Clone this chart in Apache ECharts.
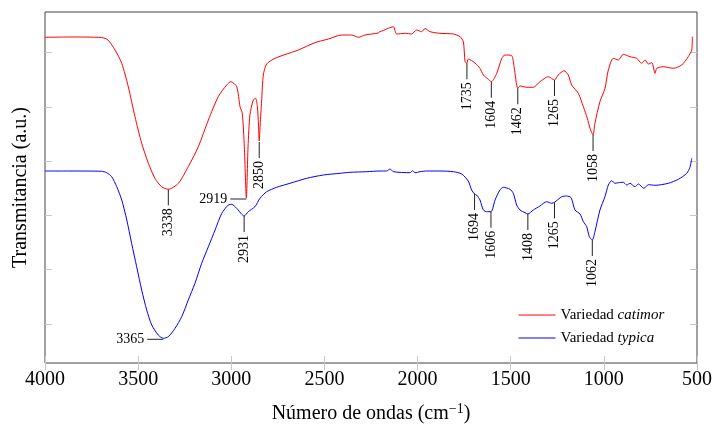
<!DOCTYPE html>
<html>
<head>
<meta charset="utf-8">
<script src="https://cdn.jsdelivr.net/npm/echarts@6/dist/echarts.min.js"></script>
<style>html,body{margin:0;padding:0;background:#fff}#c{width:714px;height:425px}</style>
</head>
<body>
<div id="c"></div>
<script>
// Wavenumber (cm^-1), transmittance (a.u.)
const catimor = [[4000,325.7],[3866,326],[3696,325.5],[3662,323],[3624,313],[3588,299.7],[3553,276.3],[3517,246.3],[3481,219.7],[3445,199.7],[3410,184.7],[3374,176.3],[3338,173.7],[3284,179.7],[3231,196.3],[3177,216.3],[3123,243],[3070,266.3],[3025,278],[3002,281.3],[2971,276.3],[2953,256.3],[2941,249.7],[2930,216.3],[2919,165],[2910,216.3],[2900,248],[2882,263],[2869,264.7],[2860,256.3],[2854,238],[2850,222],[2845,238],[2837,262],[2828,288],[2810,299],[2765,304.7],[2676,310.7],[2640,313],[2551,320.3],[2479,324],[2407,328],[2354,328],[2318,325.7],[2282,328],[2211,330],[2202,331.3],[2184,332.5],[2157,334.7],[2130,336.3],[2112,329],[2068,329.7],[2032,329],[2005,333],[1978,331.3],[1960,334.5],[1933,331.3],[1880,329.7],[1808,329],[1772,326.3],[1754,321],[1745,301.3],[1735,299.7],[1728,304],[1692,300],[1665,294.7],[1647,288],[1620,283.7],[1604,281.3],[1575,289.7],[1548,304.7],[1531,308],[1495,307.3],[1482,296.3],[1462,274.7],[1450,277],[1414,275.7],[1379,275.7],[1343,281.3],[1298,286.3],[1265,283],[1245,288],[1214,292.3],[1191,288],[1173,278],[1137,269.7],[1110,256.3],[1089,244.7],[1074,234.7],[1058,228],[1048,239.7],[1021,261.3],[994,274.7],[976,293],[949,304.7],[922,303],[896,308.7],[860,306.3],[824,304.7],[797,299.7],[779,303],[761,299],[743,300.3],[725,289.7],[716,294.7],[681,296.3],[627,294.7],[582,298],[547,306.3],[528,313],[525,326.3]];
const typica = [[4000,192],[3866,192],[3696,191.7],[3669,190.3],[3642,186.3],[3615,176.3],[3588,163],[3561,143],[3535,119.7],[3508,96.3],[3481,73],[3454,53],[3427,38],[3392,28],[3365,24.7],[3338,26.3],[3302,34.7],[3266,46.3],[3231,63],[3195,79.7],[3159,99.7],[3123,116.3],[3087,133],[3051,149.7],[3016,158],[2998,158.7],[2971,154.7],[2944,148.7],[2931,147],[2909,151.3],[2873,156.3],[2846,164.7],[2810,171.3],[2756,175.7],[2685,179.7],[2595,184.7],[2506,188],[2416,189.7],[2363,190.7],[2273,191.3],[2202,192],[2166,192],[2148,194],[2130,191.3],[2041,190.3],[2026,192.3],[2014,190.3],[1987,191.3],[1951,192],[1880,192],[1808,191.3],[1763,189],[1728,182],[1710,173],[1694,169],[1683,168],[1665,163],[1647,153],[1629,151.3],[1606,151.3],[1584,163],[1558,173],[1540,175.7],[1504,173.7],[1486,169.7],[1468,158],[1450,153],[1423,150.3],[1408,149],[1379,153],[1343,157],[1307,161.3],[1280,159.7],[1265,160.7],[1226,166.3],[1200,167],[1176,165.3],[1155,153],[1128,149],[1110,141.3],[1092,136.3],[1078,126.3],[1062,123],[1048,131.3],[1021,153],[994,166.3],[976,178],[958,182.3],[940,179.7],[922,180.3],[896,180.7],[877,178],[860,179.7],[833,176.3],[815,179],[785,174.7],[761,178.3],[725,177.7],[654,179.7],[600,183.7],[555,189.7],[538,195.7],[528,204.7]];
// Labelled peaks: [wavenumber, transmittance at peak]
const catimorPeaks = [[3338,173.7],[2919,164],[2850,221],[1735,299.7],[1604,281.3],[1462,274.7],[1265,283],[1058,228]];
const typicaPeaks = [[3365,23.7],[2931,147],[1694,169],[1606,151.3],[1408,149],[1265,160.7],[1062,123]];
const sidewaysLabels = [2919, 3365];
const xTicks = {min: 500, max: 4000, interval: 500};
const yTickValues = [39, 93.3, 147.6, 201.9, 256.2, 310.5];
const seriesNames = ['Variedad catimor', 'Variedad typica'];

const FONT = '"Liberation Serif", "Times New Roman", serif';
const chart = echarts.init(document.getElementById('c'), null, {renderer: 'canvas'});

function peakRender(params, api) {
  const w = api.value(0);
  const p = api.coord([w, api.value(1)]);
  const font = '14px ' + FONT;
  if (sidewaysLabels.indexOf(w) >= 0) {
    return {type: 'group', children: [
      {type: 'line', shape: {x1: p[0], y1: p[1], x2: p[0] - 16, y2: p[1]}, style: {stroke: '#222', lineWidth: 1}},
      {type: 'text', x: p[0] - 19, y: p[1], style: {x: 0, y: 0, text: String(w), align: 'right', verticalAlign: 'middle', font: font, fill: '#000'}}
    ]};
  }
  return {type: 'group', children: [
    {type: 'line', shape: {x1: p[0], y1: p[1], x2: p[0], y2: p[1] + 16}, style: {stroke: '#222', lineWidth: 1}},
    {type: 'text', x: p[0], y: p[1] + 19, rotation: Math.PI / 2, style: {x: 0, y: 0, text: String(w), align: 'right', verticalAlign: 'middle', font: font, fill: '#000'}}
  ]};
}

const xCommon = {
  type: 'value', inverse: true, min: xTicks.min, max: xTicks.max, interval: xTicks.interval,
  axisLine: {show: false}, splitLine: {show: false},
  axisTick: {show: true, inside: true, length: 7, lineStyle: {color: '#c8c8c8'}}
};
const yCommon = {
  type: 'value', min: 0, max: 351,
  axisLine: {show: false}, splitLine: {show: false},
  axisLabel: {show: false},
  axisTick: {show: true, inside: true, length: 7, customValues: yTickValues, lineStyle: {color: '#c8c8c8'}}
};

chart.setOption({
  animation: false,
  backgroundColor: '#fff',
  grid: {left: 45, top: 12, width: 652, height: 351, outerBoundsMode: 'none', containLabel: false,
    show: true, borderColor: '#444', borderWidth: 1, backgroundColor: 'transparent'},
  legend: {
    data: seriesNames, orient: 'vertical', left: 518, top: 306, padding: 0, itemWidth: 37, itemHeight: 10, itemGap: 5,
    itemStyle: {opacity: 0}, lineStyle: {width: 1},
    textStyle: {fontFamily: FONT, fontSize: 15, color: '#000', lineHeight: 18,
      rich: {i: {fontFamily: FONT, fontSize: 15, fontStyle: 'italic', color: '#000'}}},
    formatter: function (name) { const parts = name.split(' '); return parts[0] + ' {i|' + parts[1] + '}'; }
  },
  xAxis: [
    Object.assign({}, xCommon, {
      position: 'bottom',
      axisLabel: {show: true, margin: 7, fontFamily: FONT, fontSize: 20, color: '#000', formatter: function (v) { return String(v); }},
      name: 'Número de ondas (cm{sup|−1})', nameLocation: 'middle', nameGap: 39,
      nameTextStyle: {fontFamily: FONT, fontSize: 20, color: '#000',
        rich: {sup: {fontFamily: FONT, fontSize: 14, color: '#000', verticalAlign: 'top', padding: [0, 0, 10, 0]}}}
    }),
    Object.assign({}, xCommon, {position: 'top', axisLabel: {show: false}})
  ],
  yAxis: [
    Object.assign({}, yCommon, {
      position: 'left',
      name: 'Transmitancia (a.u.)', nameLocation: 'middle', nameGap: 14,
      nameTextStyle: {fontFamily: FONT, fontSize: 20, color: '#000'}
    }),
    Object.assign({}, yCommon, {position: 'right'})
  ],
  series: [
    {name: seriesNames[0], type: 'line', data: catimor, symbol: 'none', showSymbol: false, smooth: 0.25,
      lineStyle: {color: '#ff0000', width: 1}, itemStyle: {color: '#ff0000'}, z: 3},
    {name: seriesNames[1], type: 'line', data: typica, symbol: 'none', showSymbol: false, smooth: 0.25,
      lineStyle: {color: '#0000ff', width: 1}, itemStyle: {color: '#0000ff'}, z: 3},
    {type: 'custom', data: catimorPeaks, renderItem: peakRender, encode: {x: 0, y: 1}, z: 4, silent: true},
    {type: 'custom', data: typicaPeaks, renderItem: peakRender, encode: {x: 0, y: 1}, z: 4, silent: true}
  ]
});
</script>
</body>
</html>
